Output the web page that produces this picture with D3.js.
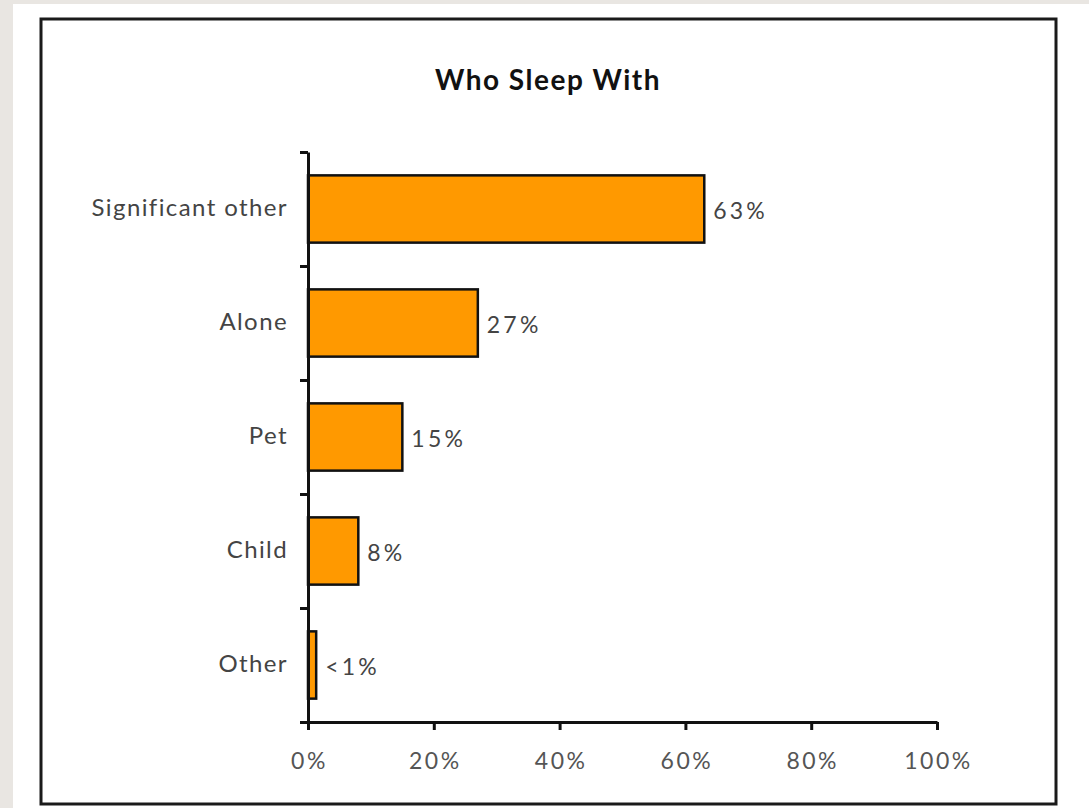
<!DOCTYPE html>
<html>
<head>
<meta charset="utf-8">
<script src="https://cdn.jsdelivr.net/npm/d3@7"></script>
<style>
  body { margin: 0; background: #e9e6e2; }
  svg { display: block; font-family: Lato, "Open Sans", sans-serif; }
</style>
</head>
<body>
<div id="chart"></div>
<script>
// data
const categories = ["Significant other", "Alone", "Pet", "Child", "Other"]
const values = [63, 27, 15, 8, 1.3]
const valueLabels = ["63%", "27%", "15%", "8%", "<1%"]
const xTicks = [0, 20, 40, 60, 80, 100]

const width = 1089, height = 808
const plot = { left: 308, right: 937, top: 152, bottom: 722 }

let svg = d3.select("#chart").append("svg")
  .attr("width", width)
  .attr("height", height)

// white page + framed box
svg.append("rect").attr("x", 13).attr("y", 4).attr("width", width - 13).attr("height", height - 4).attr("fill", "#fff")
svg.append("rect").attr("x", 41).attr("y", 19).attr("width", 1015).attr("height", 785)
  .attr("fill", "none").attr("stroke", "#1a1a1a").attr("stroke-width", 3)

svg.append("text")
  .attr("x", 548).attr("y", 90)
  .attr("text-anchor", "middle")
  .attr("font-size", 28).attr("font-weight", "bold").attr("fill", "#111")
  .attr("letter-spacing", 1.5)
  .text("Who Sleep With")

var x = d3.scaleLinear().domain([0, 100]).range([plot.left, plot.right])
var y = d3.scaleBand().domain(categories).range([plot.top, plot.bottom])
  .paddingInner(0.41).paddingOuter(0.205)

// bars
svg.append("g").selectAll("rect")
  .data(categories)
  .join("rect")
  .attr("x", x(0))
  .attr("y", d => y(d))
  .attr("width", (d, i) => x(values[i]) - x(0))
  .attr("height", y.bandwidth())
  .attr("fill", "#ff9900")
  .attr("stroke", "#111")
  .attr("stroke-width", 2.5)

// value labels
svg.append("g").selectAll("text")
  .data(categories)
  .join("text")
  .attr("x", (d, i) => x(values[i]) + 9)
  .attr("y", d => y(d) + y.bandwidth() / 2)
  .attr("dy", "0.45em")
  .attr("font-size", 23)
  .attr("letter-spacing", 3.2)
  .attr("fill", "#444")
  .text((d, i) => valueLabels[i])

// category labels
svg.append("g").selectAll("text")
  .data(categories)
  .join("text")
  .attr("x", plot.left - 20)
  .attr("y", d => y(d) + y.bandwidth() / 2)
  .attr("dy", "0.3em")
  .attr("text-anchor", "end")
  .attr("font-size", 24)
  .attr("letter-spacing", 1.4)
  .attr("fill", "#444")
  .text(d => d)

// y axis: ticks between the bands
var yEdge = d3.scaleLinear().domain([0, categories.length]).range([plot.top, plot.bottom])
svg.append("g")
  .attr("transform", "translate(" + plot.left + ",0)")
  .call(d3.axisLeft(yEdge).ticks(categories.length).tickSize(8).tickSizeOuter(0).tickFormat(""))

// x axis
let xAxis = svg.append("g")
  .attr("transform", "translate(0," + plot.bottom + ")")
  .call(d3.axisBottom(x).tickValues(xTicks).tickSize(8).tickSizeOuter(0).tickPadding(23)
    .tickFormat(d => d + "%"))
xAxis.selectAll("text")
  .attr("font-size", 23).attr("fill", "#555").attr("font-family", "Lato, sans-serif")
  .attr("letter-spacing", 2.5).attr("dx", 1)

svg.selectAll(".domain, .tick line").attr("stroke", "#111").attr("stroke-width", 3)
</script>
</body>
</html>
